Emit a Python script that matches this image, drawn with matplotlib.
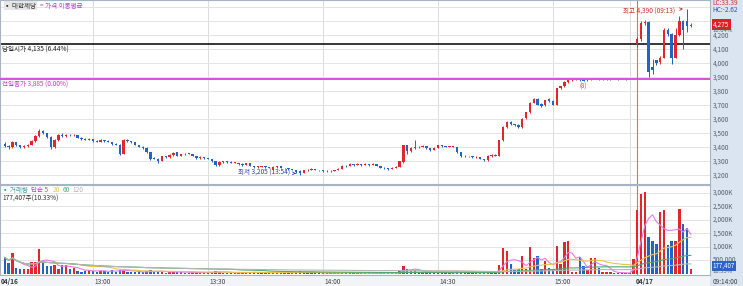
import numpy as np
import pandas as pd
import matplotlib
matplotlib.use("Agg")
import matplotlib.pyplot as plt
from matplotlib.patches import Rectangle

plt.rcParams['font.family'] = ['Noto Sans CJK KR', 'DejaVu Sans']

# 1분봉: 04/16 12:37 ~ 15:20, 15:30 단일가, 04/17 09:00 ~ 09:14
opens = [3425, 3410, 3400, 3435, 3415, 3400, 3410, 3420, 3445, 3480, 3520, 3500, 3475, 3400, 3450, 3490, 3480, 3490, 3485, 3490,
         3470, 3460, 3455, 3460, 3445, 3440, 3455, 3445, 3440, 3425, 3420, 3355, 3455, 3445, 3435, 3420, 3405, 3395, 3365, 3325,
         3320, 3300, 3335, 3330, 3345, 3365, 3340, 3350, 3355, 3355, 3340, 3325, 3330, 3325, 3320, 3300, 3275, 3295, 3300, 3295,
         3290, 3290, 3280, 3275, 3285, 3270, 3260, 3260, 3265, 3260, 3240, 3260, 3265, 3255, 3250, 3245, 3240, 3230, 3215, 3235,
         3240, 3245, 3240, 3235, 3230, 3230, 3230, 3235, 3245, 3270, 3265, 3280, 3275, 3280, 3275, 3280, 3275, 3280, 3270, 3255,
         3250, 3245, 3255, 3260, 3295, 3415, 3375, 3395, 3405, 3400, 3410, 3395, 3380, 3395, 3415, 3410, 3405, 3405, 3405, 3365,
         3335, 3340, 3335, 3330, 3330, 3320, 3310, 3335, 3345, 3340, 3450, 3545, 3580, 3565, 3560, 3545, 3610, 3650, 3720, 3745,
         3710, 3700, 3745, 3730, 3705, 3820, 3835, 3865, 3880, 3885, 3890, 3885, 3880, 3880, 3885, 3890, 3885, 3885, 3885, 3885,
         3885, 3885, 3885, 3885, 3885, 4135, 4170, 4290, 4295, 3975, 4020, 4010, 4040, 4240, 4210, 4040, 4200, 4300, 4300, 4265]
highs = [3440, 3415, 3445, 3440, 3420, 3415, 3425, 3450, 3485, 3530, 3525, 3505, 3480, 3460, 3495, 3500, 3495, 3495, 3495, 3490,
         3475, 3465, 3465, 3460, 3450, 3460, 3455, 3450, 3440, 3430, 3425, 3460, 3460, 3445, 3440, 3420, 3410, 3400, 3370, 3330,
         3325, 3340, 3340, 3350, 3365, 3370, 3355, 3360, 3360, 3355, 3340, 3335, 3330, 3325, 3320, 3300, 3300, 3305, 3300, 3300,
         3295, 3290, 3285, 3290, 3285, 3270, 3265, 3270, 3265, 3260, 3265, 3270, 3265, 3255, 3250, 3245, 3240, 3235, 3240, 3245,
         3250, 3245, 3240, 3235, 3235, 3235, 3240, 3250, 3275, 3275, 3285, 3280, 3285, 3280, 3285, 3280, 3285, 3280, 3270, 3260,
         3250, 3260, 3265, 3305, 3420, 3420, 3400, 3450, 3410, 3415, 3410, 3395, 3400, 3420, 3415, 3410, 3410, 3410, 3405, 3370,
         3345, 3340, 3335, 3335, 3330, 3320, 3345, 3350, 3350, 3455, 3550, 3585, 3585, 3570, 3565, 3610, 3655, 3725, 3750, 3750,
         3715, 3740, 3755, 3735, 3825, 3840, 3870, 3890, 3890, 3890, 3895, 3890, 3885, 3890, 3895, 3890, 3890, 3890, 3890, 3885,
         3890, 3885, 3890, 3885, 3885, 4185, 4305, 4310, 4300, 4030, 4025, 4050, 4250, 4250, 4215, 4250, 4340, 4310, 4390, 4285]
lows = [3405, 3390, 3395, 3410, 3395, 3395, 3405, 3415, 3440, 3475, 3495, 3470, 3390, 3395, 3445, 3475, 3475, 3480, 3480, 3465,
        3455, 3450, 3450, 3440, 3435, 3440, 3440, 3435, 3420, 3415, 3345, 3350, 3440, 3430, 3415, 3400, 3390, 3360, 3310, 3315,
        3290, 3300, 3325, 3325, 3340, 3335, 3340, 3345, 3350, 3335, 3320, 3320, 3320, 3315, 3295, 3265, 3270, 3290, 3290, 3285,
        3285, 3275, 3270, 3275, 3265, 3255, 3255, 3260, 3255, 3250, 3235, 3255, 3250, 3245, 3240, 3235, 3220, 3205, 3215, 3230,
        3235, 3235, 3230, 3225, 3225, 3225, 3230, 3235, 3245, 3260, 3265, 3270, 3275, 3270, 3275, 3270, 3275, 3265, 3250, 3245,
        3240, 3245, 3250, 3260, 3290, 3350, 3370, 3390, 3395, 3400, 3390, 3375, 3380, 3395, 3405, 3400, 3400, 3400, 3360, 3330,
        3330, 3330, 3325, 3325, 3315, 3305, 3305, 3330, 3335, 3340, 3445, 3540, 3560, 3555, 3540, 3540, 3605, 3645, 3715, 3700,
        3690, 3695, 3725, 3700, 3700, 3815, 3830, 3860, 3875, 3880, 3875, 3870, 3875, 3880, 3885, 3880, 3880, 3880, 3880, 3885,
        3880, 3885, 3880, 3885, 3885, 4115, 4160, 4270, 3905, 3920, 3990, 3995, 4035, 4195, 3995, 4035, 4195, 4100, 4225, 4260]
closes = [3410, 3400, 3435, 3415, 3400, 3410, 3420, 3445, 3480, 3520, 3500, 3475, 3400, 3450, 3490, 3480, 3490, 3485, 3490, 3470,
          3460, 3455, 3460, 3445, 3440, 3455, 3445, 3440, 3425, 3420, 3350, 3455, 3445, 3435, 3420, 3405, 3395, 3365, 3320, 3320,
          3300, 3335, 3330, 3345, 3360, 3340, 3350, 3355, 3355, 3340, 3325, 3330, 3325, 3320, 3300, 3275, 3295, 3300, 3295, 3290,
          3290, 3280, 3275, 3285, 3270, 3260, 3260, 3265, 3260, 3255, 3260, 3265, 3255, 3250, 3245, 3240, 3225, 3215, 3235, 3240,
          3245, 3240, 3235, 3230, 3230, 3230, 3235, 3245, 3270, 3265, 3280, 3275, 3280, 3275, 3280, 3275, 3280, 3270, 3255, 3250,
          3245, 3255, 3260, 3300, 3415, 3375, 3395, 3405, 3400, 3410, 3395, 3380, 3395, 3415, 3410, 3405, 3405, 3405, 3365, 3335,
          3340, 3335, 3330, 3330, 3320, 3310, 3340, 3345, 3340, 3450, 3545, 3580, 3565, 3560, 3545, 3605, 3650, 3720, 3745, 3705,
          3695, 3735, 3730, 3705, 3820, 3835, 3865, 3880, 3885, 3885, 3880, 3875, 3880, 3890, 3890, 3885, 3885, 3885, 3885, 3885,
          3885, 3885, 3885, 3885, 3885, 4170, 4290, 4295, 3940, 3955, 4005, 4040, 4240, 4210, 4040, 4200, 4300, 4240, 4265, 4275]
volumes_k = [612, 400, 775, 212, 190, 190, 200, 437, 462, 937, 462, 287, 280, 337, 187, 337, 337, 175, 212, 112,
             87, 125, 150, 112, 87, 125, 100, 80, 150, 90, 160, 170, 90, 70, 80, 60, 70, 110, 130, 60,
             120, 90, 50, 70, 80, 90, 60, 50, 40, 60, 70, 40, 40, 50, 90, 110, 80, 50, 40, 40,
             30, 50, 60, 50, 70, 80, 30, 40, 40, 50, 90, 60, 50, 40, 40, 50, 80, 120, 90, 50,
             60, 40, 40, 30, 20, 20, 30, 50, 70, 40, 50, 30, 30, 20, 30, 20, 30, 40, 60, 40,
             40, 50, 40, 120, 310, 200, 110, 150, 60, 60, 70, 80, 60, 90, 40, 30, 20, 20, 110, 90,
             50, 40, 30, 30, 50, 70, 80, 60, 70, 337, 962, 837, 362, 150, 175, 650, 190, 987, 587, 675,
             175, 475, 212, 190, 1050, 362, 1175, 1212, 87, 75, 612, 312, 150, 587, 587, 237, 75, 75, 87, 25,
             40, 30, 40, 50, 550, 2375, 2962, 3050, 1362, 1212, 1125, 2312, 2362, 1062, 1237, 1237, 2412, 1837, 1700, 177.407]

time_labels = ["13:00", "13:30", "14:00", "14:30", "15:00"]
date_labels = ["04/16", "04/17"]
ma_periods = [5, 20, 60, 120]

prev_close = 3885
day_open = 4135
day_high, day_high_time = 4390, "09:13"
day_low, day_low_time = 3205, "13:54"

# ---------------------------------------------------------------
o = np.array(opens, float)
h = np.array(highs, float)
l = np.array(lows, float)
c = np.array(closes, float)
v = np.array(volumes_k, float) * 1000
n = len(c)
x = np.arange(n)

RED = '#e3262b'
BLUE = '#2064c8'
cols = np.where(c >= o, RED, BLUE)
FS = 4.7
AX_TXT = '#5a6070'

W, H = 743, 286
fig = plt.figure(figsize=(W / 100, H / 100), dpi=100)
# 오른쪽 가격축 영역, 아래 시간축 영역 (축보다 먼저 그림)
fig.patches.append(Rectangle((710 / W, 0), 33 / W, 1, transform=fig.transFigure,
                             facecolor='#dbe5f1', edgecolor='none', zorder=-5))
fig.patches.append(Rectangle((0, 0), 710 / W, 11 / H, transform=fig.transFigure,
                             facecolor='#f2f4f8', edgecolor='none', zorder=-5))


def px_axes(x0, y0, w, hh):
    return fig.add_axes([x0 / W, 1 - (y0 + hh) / H, w / W, hh / H])


ax = px_axes(0, 0, 710, 184)
axv = px_axes(0, 185, 710, 90)

# 12:37 이 0 번째 봉
def t_idx(t):
    hh, mm = map(int, t.split(':'))
    return (hh * 60 + mm) - (12 * 60 + 37)

tick_idx = [t_idx(t) for t in time_labels]
sep_idx = 164.9  # 04/17 시작
date_grid = 163

XL = (-1.25, 184.0)
for a in (ax, axv):
    a.set_xlim(*XL)
    a.set_xticks([])
    a.set_yticks([])
    for s in a.spines.values():
        s.set_color('#a8b4c4')
        s.set_linewidth(0.8)
    for t in tick_idx + [date_grid]:
        a.axvline(t, color='#dcdcdc', lw=0.7, zorder=0)
    a.axvline(sep_idx, color='#c87878', lw=0.8, zorder=1)

# 가격 패널
ax.set_ylim(3138, 4452)
for p in range(3200, 4500, 100):
    ax.axhline(p, color='#e4e4e4', lw=0.7, zorder=0)

body = np.maximum(np.abs(c - o), 3)
ax.vlines(x, l, h, colors=cols, lw=0.7, zorder=3)
ax.bar(x, body, bottom=np.minimum(o, c), width=0.62, color=cols, zorder=4)

ax.axhline(day_open, color='black', lw=1.1, zorder=2)
ax.axhline(prev_close, color='#d94fd9', lw=1.4, zorder=5)
btr = ax.get_yaxis_transform()
ax.text(0.003, day_open - 10, f"당일시가 {day_open:,} ({(day_open / prev_close - 1) * 100:.2f}%)",
        transform=btr, fontsize=FS, color='#222222', va='top', ha='left')
ax.text(0.003, prev_close - 10, f"전일종가 {prev_close:,} (0.00%)",
        transform=btr, fontsize=FS, color='#c23cc2', va='top', ha='left')

hi_i = int(np.argmax(h))
lo_i = int(np.argmin(l))
ax.annotate(f"최고 {day_high:,} ({day_high_time})", xy=(hi_i - 0.3, day_high),
            xytext=(hi_i - 3, day_high - 20), fontsize=FS, color='#c83030',
            ha='right', va='center', arrowprops=dict(arrowstyle='->', color='#c83030', lw=0.6))
ax.annotate(f"최저 {day_low:,} ({day_low_time})", xy=(lo_i - 0.3, day_low + 8),
            xytext=(lo_i - 2.5, day_low + 15), fontsize=FS, color='#3040a0',
            ha='right', va='center', arrowprops=dict(arrowstyle='->', color='#3040a0', lw=0.6))
ax.text(151, 3835, "(8)", fontsize=4.4, color='#d04040', ha='center', va='center')

ax.text(0.006, 0.99, "▪ 대한제당", transform=ax.transAxes, fontsize=FS, color='#333333',
        va='top', ha='left', bbox=dict(boxstyle='square,pad=0.1', fc='#e6e6e6', ec='none'))
ax.text(0.056, 0.99, "= 가격 이동평균", transform=ax.transAxes, fontsize=FS,
        color='#c23cc2', va='top', ha='left')

ytr = ax.get_yaxis_transform()
for p in range(3200, 4400, 100):
    ax.text(1.004, p, f"{p:,}", transform=ytr, fontsize=FS, color=AX_TXT,
            va='center', ha='left', clip_on=False)
ax.text(1.004, 4428, "LC:33.39", transform=ytr, fontsize=FS, color='#d03030',
        va='center', ha='left', clip_on=False)
ax.text(1.004, 4382, "HC:-2.62", transform=ytr, fontsize=FS, color='#3050b0',
        va='center', ha='left', clip_on=False)
ax.text(1.004, c[-1], f"{int(c[-1]):,}", transform=ytr, fontsize=FS, color='white',
        va='center', ha='left', clip_on=False,
        bbox=dict(boxstyle='square,pad=0.2', fc='#e02020', ec='none'))
ax.text(1.004, c[-1] - 40, f"{(c[-1] / prev_close - 1) * 100:.2f}%", transform=ytr,
        fontsize=4.3, color=AX_TXT, va='center', ha='left', clip_on=False)

# 거래량 패널
axv.set_ylim(-37000, 3296000)
for q in range(500000, 3000001, 500000):
    axv.axhline(q, color='#e4e4e4', lw=0.7, zorder=0)
axv.bar(x, v, width=0.62, color=cols, zorder=3)

vs = pd.Series(v)
ma_cols = ['#e57ae5', '#e8c34a', '#4fa870', '#b4b4b4']
for per, mc in zip(ma_periods, ma_cols):
    axv.plot(x, vs.rolling(per, min_periods=1).mean(), color=mc, lw=0.8, zorder=4)

axv.text(0.003, 0.985, "▪ 거래량", transform=axv.transAxes, fontsize=FS,
         color='#3a9a9a', va='top', ha='left')
axv.text(0.044, 0.985, "단순 5", transform=axv.transAxes, fontsize=FS,
         color='#c23cc2', va='top', ha='left')
for tx, lab, mc in zip([0.074, 0.088, 0.102], ["20", "60", "120"], ma_cols[1:]):
    axv.text(tx, 0.985, lab, transform=axv.transAxes, fontsize=FS, color=mc,
             va='top', ha='left')
axv.text(0.003, 0.89, f"{v[-1]:,.0f}주(10.33%)", transform=axv.transAxes, fontsize=FS,
         color='#333333', va='top', ha='left')

vtr = axv.get_yaxis_transform()
for q in range(1000000, 3000001, 500000):
    axv.text(1.004, q, f"{q // 1000:,}K", transform=vtr, fontsize=FS, color=AX_TXT,
             va='center', ha='left', clip_on=False)
axv.text(1.004, 520000, "500,000", transform=vtr, fontsize=FS, color=AX_TXT,
         va='center', ha='left', clip_on=False)
axv.text(1.004, 300000, f"{v[-1]:,.0f}", transform=vtr, fontsize=4.5, color='white',
         va='center', ha='left', clip_on=False,
         bbox=dict(boxstyle='square,pad=0.1', fc='#2a64c8', ec='none'))
axv.text(1.004, 80000, "10.33%", transform=vtr, fontsize=4.3, color=AX_TXT,
         va='center', ha='left', clip_on=False)

# 하단 시간축
xtr = axv.get_xaxis_transform()
axv.text(-1.0, -0.03, date_labels[0], transform=xtr, fontsize=FS, fontweight='bold',
         color='#333333', va='top', ha='left', clip_on=False)
for t, lab in zip(tick_idx, time_labels):
    axv.text(t + 0.4, -0.03, lab, transform=xtr, fontsize=FS, color='#444444',
             va='top', ha='left', clip_on=False)
axv.text(sep_idx - 0.2, -0.03, date_labels[1], transform=xtr, fontsize=FS, fontweight='bold',
         color='#333333', va='top', ha='left', clip_on=False)
axv.text(1.004, -0.03, "09:14:00", transform=axv.transAxes, fontsize=FS, color='#444444',
         va='top', ha='left', clip_on=False)

fig.savefig("out.png", dpi=100)
